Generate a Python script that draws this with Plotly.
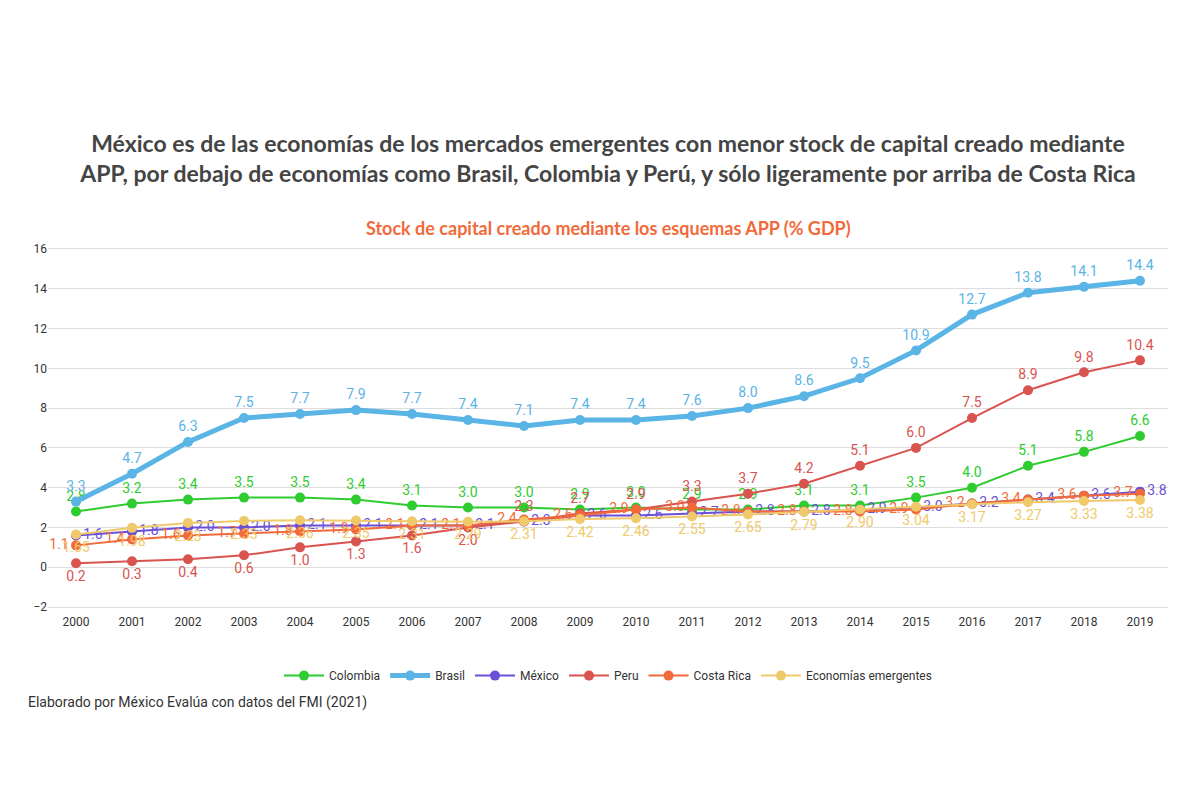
import plotly.graph_objects as go

years = list(range(2000, 2020))
colombia = [2.8,3.2,3.4,3.5,3.5,3.4,3.1,3.0,3.0,2.9,3.0,2.9,2.9,3.1,3.1,3.5,4.0,5.1,5.8,6.6]
brasil = [3.3,4.7,6.3,7.5,7.7,7.9,7.7,7.4,7.1,7.4,7.4,7.6,8.0,8.6,9.5,10.9,12.7,13.8,14.1,14.4]
mexico = [1.6,1.8,2.0,2.0,2.1,2.1,2.1,2.1,2.3,2.6,2.6,2.7,2.8,2.8,2.9,3.0,3.2,3.4,3.6,3.8]
peru = [0.2,0.3,0.4,0.6,1.0,1.3,1.6,2.0,2.3,2.7,2.9,3.3,3.7,4.2,5.1,6.0,7.5,8.9,9.8,10.4]
costa_rica = [1.1,1.4,1.6,1.7,1.8,1.9,2.1,2.1,2.4,2.6,2.9,3.0,2.8,2.8,2.8,2.9,3.2,3.4,3.6,3.7]
emergentes = [1.65,1.98,2.23,2.33,2.36,2.35,2.31,2.29,2.31,2.42,2.46,2.55,2.65,2.79,2.90,3.04,3.17,3.27,3.33,3.38]

peru_pos = ["bottom center"] * 8 + ["top center"] * 12
series = [
    ("Colombia", colombia, "#2ecc2e", 2, "top center", 1),
    ("Brasil", brasil, "#5ab4e5", 5, "top center", 1),
    ("México", mexico, "#6a4fd8", 2, "middle right", 1),
    ("Peru", peru, "#d9534f", 2, peru_pos, 1),
    ("Costa Rica", costa_rica, "#f26a3a", 2, "middle left", 1),
    ("Economías emergentes", emergentes, "#efc96a", 2, "bottom center", 2),
]

fig = go.Figure()
for name, vals, col, w, pos, dec in series:
    fig.add_trace(go.Scatter(
        x=years, y=vals, name=name, mode="lines+markers+text",
        line=dict(color=col, width=w), marker=dict(color=col, size=10),
        text=[f"{v:.{dec}f}" for v in vals],
        textposition=pos, textfont=dict(color=col, size=14, family="Roboto"),
        cliponaxis=False,
    ))

fig.update_layout(
    width=1200, height=800, paper_bgcolor="white", plot_bgcolor="white",
    margin=dict(l=40, r=40, t=235, b=195),
    font=dict(family="Roboto", color="#333"),
    title=dict(text="<b>México es de las economías de los mercados emergentes con menor stock de capital creado mediante<br>APP, por debajo de economías como Brasil, Colombia y Perú, y sólo ligeramente por arriba de Costa Rica</b>",
               x=0.5, y=0.82, xanchor="center", yanchor="middle", font=dict(size=23, color="#444", family="Lato")),
    annotations=[
        dict(text="<b>Stock de capital creado mediante los esquemas APP (% GDP)</b>", xref="paper", yref="paper",
             x=0.5, y=1.076, showarrow=False, font=dict(size=18, color="#f26a3a", family="Lato")),
        dict(text="Elaborado por México Evalúa con datos del FMI (2021)", xref="paper", yref="paper",
             x=-0.02, xanchor="left", y=-0.27, showarrow=False, font=dict(size=14, color="#333")),
    ],
    legend=dict(orientation="h", x=0.5, xanchor="center", y=-0.13, font=dict(size=12), itemwidth=40),
    xaxis=dict(tickmode="linear", dtick=1, range=[1999.5, 2019.5], showgrid=False, tickfont=dict(size=12)),
    yaxis=dict(range=[-2.3, 16.3], dtick=2, gridcolor="#ddd", zeroline=False, tickfont=dict(size=12), tickformat="d"),
)
fig.write_html("out.html")
